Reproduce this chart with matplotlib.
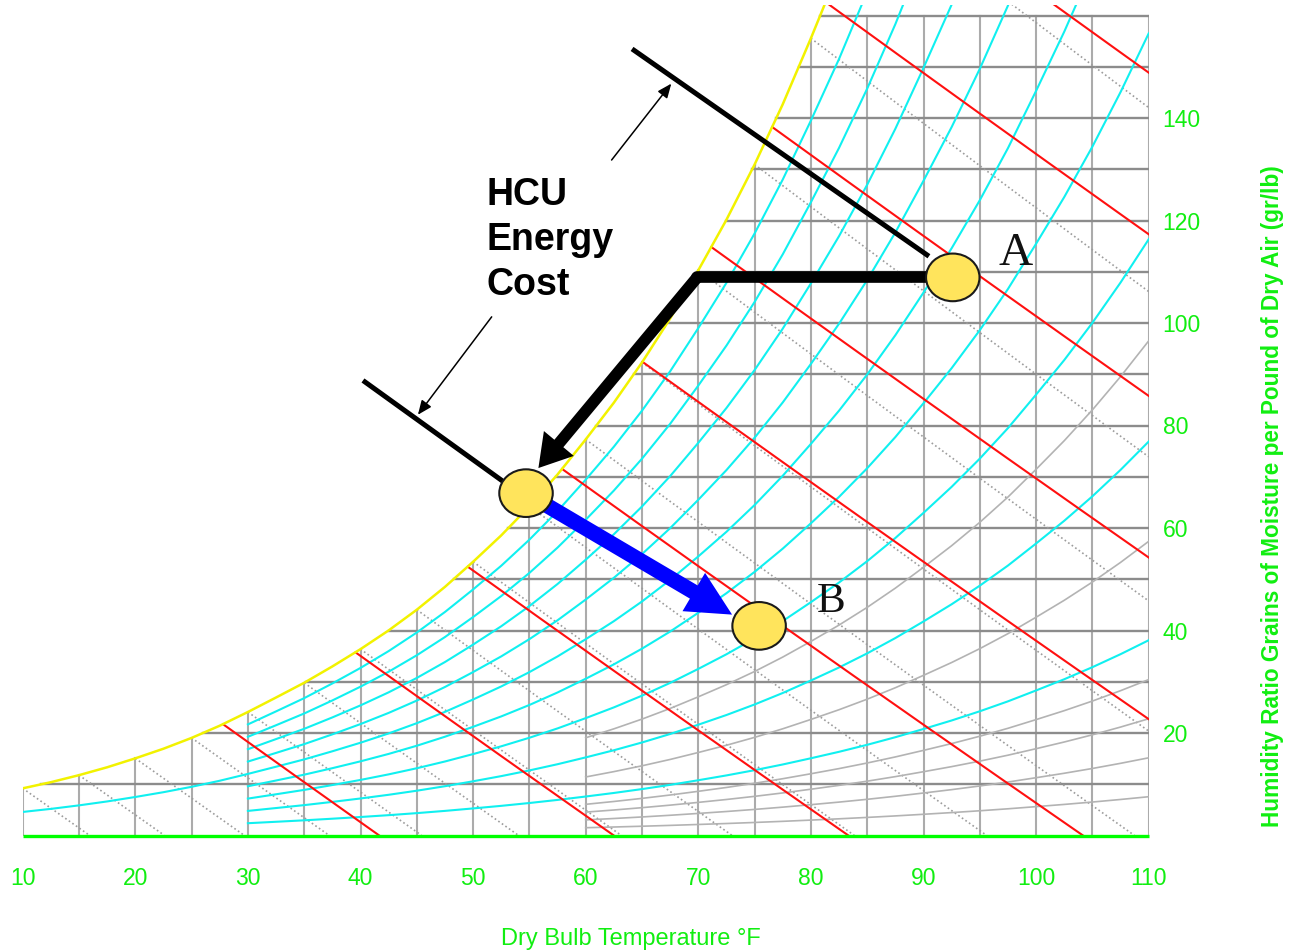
import numpy as np
import matplotlib
matplotlib.use('Agg')
import matplotlib.pyplot as plt
from matplotlib.patches import Ellipse

plt.rcParams['font.family'] = ['Liberation Sans', 'DejaVu Sans']

# saturation table (dry bulb F -> saturation vapour pressure, inHg)
sat_temp_f = [10, 12.5, 15, 17.5, 20, 22.5, 25, 27.5, 30, 32.5, 35, 37.5, 40,
              42.5, 45, 47.5, 50, 52.5, 55, 57.5, 60, 62.5, 65, 67.5, 70,
              72.5, 75, 77.5, 80, 82.5, 85, 87.5, 90, 92.5, 95, 97.5, 100,
              102.5, 105, 107.5, 110]
sat_press_inhg = [0.0631, 0.0713, 0.0807, 0.0912, 0.1031, 0.1159, 0.1303, 0.1465,
                  0.1647, 0.1839, 0.2034, 0.2250, 0.2478, 0.2725, 0.2997, 0.3297,
                  0.3626, 0.3971, 0.4350, 0.4764, 0.5218, 0.5693, 0.6211, 0.6775,
                  0.7392, 0.8035, 0.8734, 0.9494, 1.0321, 1.1181, 1.2113, 1.3122,
                  1.4215, 1.5345, 1.6565, 1.7882, 1.9325, 2.0807, 2.2401, 2.4117,
                  2.5955]

# chart line families
rh_cyan = [10, 20, 30, 40, 60, 70, 80, 90]   # start at 30 F
rh_cyan_long = [50]                           # starts at 10 F
rh_gray = [2, 4, 6, 8, 15, 25]                # start at 60 F
enthalpy_btu = [10, 15, 20, 25, 30, 35, 40, 45, 50]
wet_bulb_f = [10, 15, 20, 25, 30, 35, 40, 45, 50, 55, 60, 65, 70, 75, 80, 85]

x_ticks = [10, 20, 30, 40, 50, 60, 70, 80, 90, 100, 110]
y_ticks = [20, 40, 60, 80, 100, 120, 140]
grid_temps = [10, 15, 20, 25, 30, 35, 40, 45, 50, 55, 60, 65, 70, 75, 80, 85,
              90, 95, 100, 105, 110]
grid_grains = [10, 20, 30, 40, 50, 60, 70, 80, 90, 100, 110, 120, 130, 140, 150, 160]

# process points (dry bulb F, grains/lb)
pt_temp = [92.6, 54.7, 75.4]
pt_gr = [108.9, 66.8, 40.9]
corner = (69.9, 108.9)
black_tip = (55.8, 71.7)
blue_tip = (73.0, 43.1)

P_ATM = 29.921


def grains(pv):
    return 7000 * 0.622 * pv / (P_ATM - pv)


sat_t = np.array(sat_temp_f)
sat_p = np.array(sat_press_inhg)
sat_w = grains(sat_p)

fig = plt.figure(figsize=(12.91, 9.51), dpi=100)
ax = fig.add_axes([22.7 / 1291, 115.5 / 951, 1126 / 1291, 830.5 / 951])
ax.set_xlim(10, 110)
ax.set_ylim(0, 830.5 / 5.125)
for s in ax.spines.values():
    s.set_visible(False)

# grid, bounded by the saturation curve
for t in grid_temps:
    top = min(np.interp(t, sat_t, sat_w), 160)
    ax.plot([t, t], [0, top], color='#ababab', lw=1.5, zorder=1)
for w in grid_grains:
    td = np.interp(w, sat_w, sat_t)
    ax.plot([td, 110], [w, w], color='#8c8c8c', lw=1.7, zorder=1)

# wet bulb lines (dotted)
for twb in wet_bulb_f:
    ws = np.interp(twb, sat_t, sat_w) / 7000
    t = np.linspace(twb, 110, 2000)
    w = ((1093 - 0.556 * twb) * ws - 0.24 * (t - twb)) / (1093 + 0.444 * t - twb) * 7000
    m = w >= 0
    ax.plot(t[m], w[m], color='#9c9c9c', lw=1.2, ls=(0, (1, 1.6)), zorder=2)

# low relative humidity lines (gray)
for rh in rh_gray:
    m = sat_t >= 60
    ax.plot(sat_t[m], grains(rh / 100 * sat_p[m]), color='#b3b3b3', lw=1.2, zorder=2)

# relative humidity lines (cyan)
for rh in rh_cyan:
    m = sat_t >= 30
    ax.plot(sat_t[m], grains(rh / 100 * sat_p[m]), color='#10f0f0', lw=1.5, zorder=3)
for rh in rh_cyan_long:
    ax.plot(sat_t, grains(rh / 100 * sat_p), color='#10f0f0', lw=1.5, zorder=3)

# enthalpy lines (red)
tt = np.linspace(10, 110, 4000)
sat_tt = np.interp(tt, sat_t, sat_w)
for h in enthalpy_btu:
    w = (h - 0.24 * tt) / (1061 + 0.444 * tt) * 7000
    m = (w >= 0) & (w <= sat_tt)
    ax.plot(tt[m], w[m], color='#ff1010', lw=1.5, zorder=4)

# saturation curve
ax.plot(sat_t, sat_w, color='#f2f200', lw=1.8, zorder=5)

# base line
ax.plot([10, 110], [0, 0], color='#00ff00', lw=2.4, zorder=5, clip_on=False,
        solid_capstyle='butt')

# HCU energy cost markers
ax.plot([64.3, 90.3], [153.2, 113.3], color='black', lw=3.6, zorder=6)
ax.plot([40.4, 53.1], [88.5, 68.4], color='black', lw=3.6, zorder=6)
ax.annotate('', xy=(67.6, 146.7), xytext=(62.3, 131.8),
            arrowprops=dict(arrowstyle='-|>,head_length=0.85,head_width=0.36',
                            mutation_scale=10, color='black', lw=1.1,
                            shrinkA=0, shrinkB=0), zorder=6)
ax.annotate('', xy=(45.1, 82.1), xytext=(51.65, 101.2),
            arrowprops=dict(arrowstyle='-|>,head_length=0.85,head_width=0.36',
                            mutation_scale=10, color='black', lw=1.1,
                            shrinkA=0, shrinkB=0), zorder=6)

# process path A -> coil -> B
ax.plot([pt_temp[0], corner[0]], [pt_gr[0], corner[1]], color='black', lw=8.4,
        solid_capstyle='round', zorder=7)
ax.annotate('', xy=black_tip, xytext=corner,
            arrowprops=dict(arrowstyle='simple,head_length=23,head_width=28,tail_width=8.4',
                            mutation_scale=1, color='black', lw=0,
                            shrinkA=0, shrinkB=0), zorder=7)
ax.annotate('', xy=blue_tip, xytext=(pt_temp[1], pt_gr[1]),
            arrowprops=dict(arrowstyle='simple,head_length=32,head_width=32,tail_width=11',
                            mutation_scale=1, color='#0000ff', lw=0,
                            shrinkA=0, shrinkB=0), zorder=7)

for t, w in zip(pt_temp, pt_gr):
    ax.add_patch(Ellipse((t, w), 4.75, 9.3, facecolor='#ffe45c', edgecolor='#1a1a1a',
                         lw=1.5, zorder=8))

# ticks
green = '#11ee11'
ax.set_xticks(x_ticks)
ax.set_xticklabels([str(v) for v in x_ticks])
ax.yaxis.tick_right()
ax.set_yticks(y_ticks)
ax.set_yticklabels([str(v) for v in y_ticks])
ax.tick_params(axis='x', length=0, pad=23, labelsize=16.5, labelcolor=green)
ax.tick_params(axis='y', length=0, pad=10, labelsize=16.5, labelcolor=green)

W, H = 1291, 951
fig.text(630.8 / W, 1 - 945 / H, 'Dry Bulb Temperature \u00b0F', color=green,
         fontsize=17, ha='center', va='baseline')
fig.text(1273 / W, 1 - 496 / H,
         'Humidity Ratio Grains of Moisture per Pound of Dry Air (gr/lb)',
         color=green, fontsize=16.3, fontweight='bold', rotation=90,
         ha='center', va='center')

for txt, base in zip(['HCU', 'Energy', 'Cost'], [205, 250.5, 295]):
    fig.text(486.7 / W, 1 - base / H, txt, fontsize=27, fontweight='bold',
             ha='left', va='baseline', color='black')

fig.text(998 / W, 1 - 265 / H, 'A', fontsize=34, family='Liberation Serif',
         ha='left', va='baseline', color='#111111')
fig.text(817 / W, 1 - 612 / H, 'B', fontsize=31, family='Liberation Serif',
         ha='left', va='baseline', color='#111111')

fig.savefig('out.png', dpi=100, facecolor='white')
